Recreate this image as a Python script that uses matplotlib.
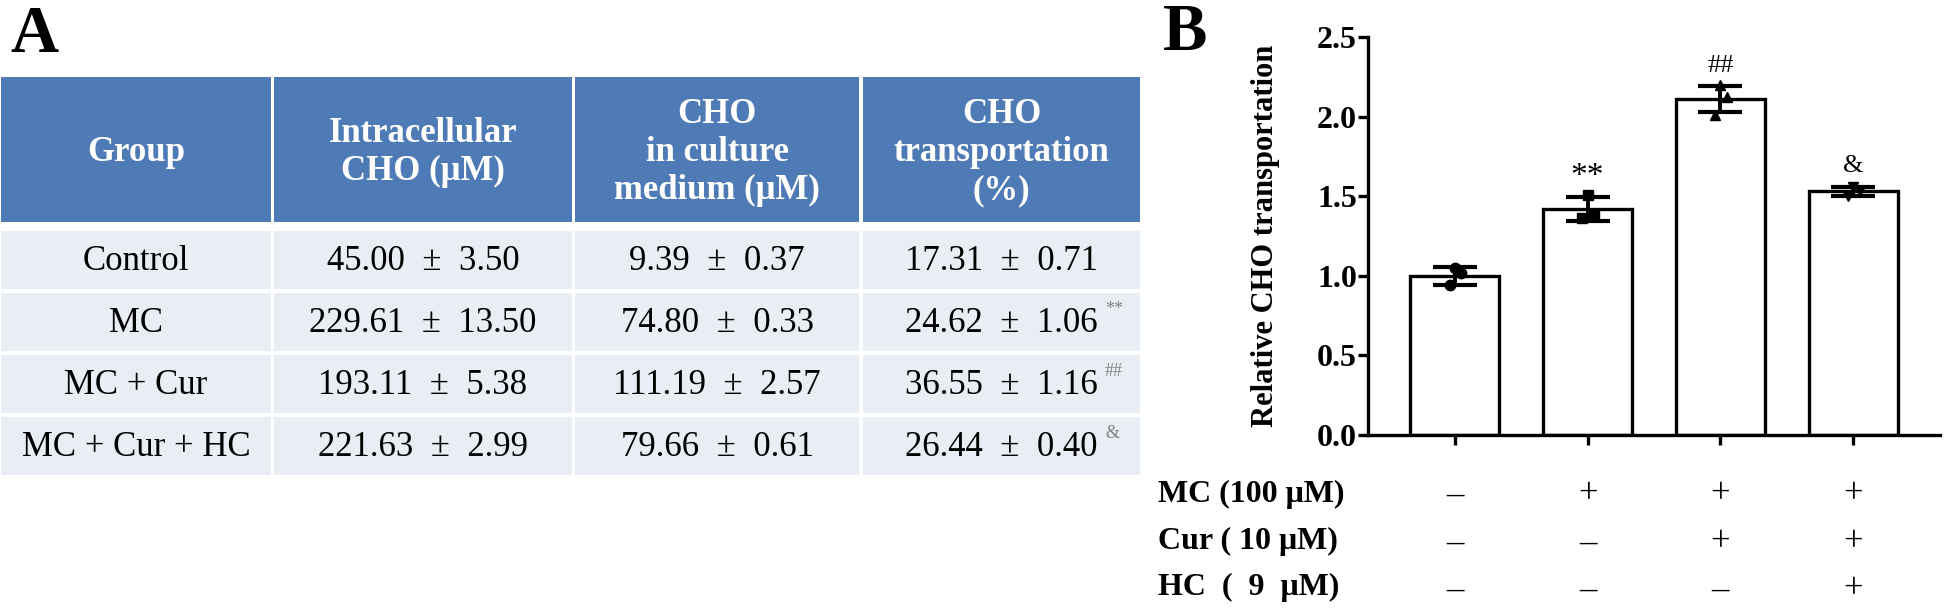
import matplotlib
matplotlib.use('Agg')
import matplotlib.pyplot as plt
from matplotlib.patches import Rectangle
import numpy as np

plt.rcParams['font.family'] = ['Liberation Serif', 'DejaVu Serif']

# ---- panel A table data ----
groups = ['Control', 'MC', 'MC + Cur', 'MC + Cur + HC']
intra_mean = [45.00, 229.61, 193.11, 221.63]
intra_sd = [3.50, 13.50, 5.38, 2.99]
medium_mean = [9.39, 74.80, 111.19, 79.66]
medium_sd = [0.37, 0.33, 2.57, 0.61]
transp_mean = [17.31, 24.62, 36.55, 26.44]
transp_sd = [0.71, 1.06, 1.16, 0.40]
transp_sig = ['', '**', '##', '&']
headers = ['Group', 'Intracellular\nCHO (μM)', 'CHO\nin culture\nmedium (μM)',
           'CHO\ntransportation\n(%)']

# ---- panel B bar data ----
rel_mean = [1.00, 1.42, 2.11, 1.53]
rel_sd = [0.056, 0.075, 0.08, 0.03]
rel_points = [[1.05, 1.02, 0.94],
              [1.51, 1.39, 1.36],
              [2.20, 2.12, 2.01],
              [1.56, 1.53, 1.50]]
bar_sig = ['', '**', '##', '&']
mc_row = ['–', '+', '+', '+']
cur_row = ['–', '–', '+', '+']
hc_row = ['–', '–', '–', '+']
treat_labels = ['MC (100 μM)', 'Cur ( 10 μM)', 'HC  (  9  μM)']

header_blue = '#4E7AB6'
row_color = '#E9EDF4'

fig = plt.figure(figsize=(19.44, 6.09), dpi=100)

# table drawn in pixel-like coordinates
tab = fig.add_axes([0, 0, 1, 1])
tab.set_xlim(0, 1944)
tab.set_ylim(609, 0)
tab.axis('off')

cols = [(1, 271), (274, 572), (575, 859), (863, 1140)]
head_top, head_bot = 77, 222
row_top0, row_pitch, row_h = 231, 62, 58

for (l, r), h in zip(cols, headers):
    tab.add_patch(Rectangle((l, head_top), r - l, head_bot - head_top,
                            facecolor=header_blue, edgecolor='none'))
    tab.text((l + r) / 2, (head_top + head_bot) / 2 + 3, h, color='white',
             fontsize=25, fontweight='bold', ha='center', va='center',
             linespacing=1.2)

pm = '  ±  '
for i, g in enumerate(groups):
    top = row_top0 + i * row_pitch
    cells = [g,
             f'{intra_mean[i]:.2f}{pm}{intra_sd[i]:.2f}',
             f'{medium_mean[i]:.2f}{pm}{medium_sd[i]:.2f}',
             f'{transp_mean[i]:.2f}{pm}{transp_sd[i]:.2f}']
    for (l, r), c in zip(cols, cells):
        tab.add_patch(Rectangle((l, top), r - l, row_h,
                                facecolor=row_color, edgecolor='none'))
        tab.text((l + r) / 2, top + row_h / 2 + 1, c, fontsize=25,
                 ha='center', va='center', color='black')
    if transp_sig[i]:
        tab.text(1105, top + 21, transp_sig[i], fontsize=13, color='#808080',
                 ha='left', va='baseline')

fig.text(10 / 1944, 1 - 52 / 609, 'A', fontsize=48, fontweight='bold',
         va='baseline', ha='left')
fig.text(1163 / 1944, 1 - 50 / 609, 'B', fontsize=48, fontweight='bold',
         va='baseline', ha='left')

# ---- panel B ----
ax = fig.add_axes([1368 / 1944, (609 - 435) / 609, (1940 - 1368) / 1944,
                   (435 - 37) / 609])
x = np.arange(len(rel_mean))
ax.bar(x, rel_mean, width=0.67, color='white', edgecolor='black',
       linewidth=2.4, zorder=1)
ax.errorbar(x, rel_mean, yerr=rel_sd, fmt='none', ecolor='black',
            elinewidth=2.8, capsize=16, capthick=3, zorder=3)

markers = ['o', 's', '^', 'v']
offsets = [0.0, 0.05, -0.04]
for i, pts in enumerate(rel_points):
    ax.plot(x[i] + np.array(offsets), pts, linestyle='none', marker=markers[i],
            color='black', markersize=7.5, zorder=4)

for i, s in enumerate(bar_sig):
    if s:
        fs = 24 if s == '**' else 19
        ax.text(x[i], rel_mean[i] + rel_sd[i] + 0.13, s, fontsize=fs,
                ha='center', va='center')

ax.set_xlim(-0.654, 3.654)
ax.set_ylim(0, 2.5)
ax.set_yticks(np.arange(0, 2.51, 0.5))
ax.set_yticklabels([f'{v:.1f}' for v in np.arange(0, 2.51, 0.5)],
                   fontsize=23, fontweight='bold')
ax.set_xticks(x)
ax.set_xticklabels([])
ax.tick_params(axis='both', direction='out', length=7, width=2.4, pad=1)
for side in ['top', 'right']:
    ax.spines[side].set_visible(False)
for side in ['left', 'bottom']:
    ax.spines[side].set_linewidth(2.4)
ax.set_ylabel('Relative CHO transportation', fontsize=22, fontweight='bold')
ax.yaxis.set_label_coords(-0.18, 0.5)
ax.yaxis.label.set_va('center')

trans = ax.get_xaxis_transform()
for row, yy in zip([mc_row, cur_row, hc_row], [-0.151, -0.271, -0.389]):
    for i, s in enumerate(row):
        ax.text(x[i], yy, s, fontsize=25, ha='center', va='center',
                transform=trans)
for lbl, yy in zip(treat_labels, [494, 541, 587]):
    fig.text(1158 / 1944, 1 - yy / 609, lbl, fontsize=23, fontweight='bold',
             ha='left', va='center')

fig.savefig('out.png', dpi=100)
